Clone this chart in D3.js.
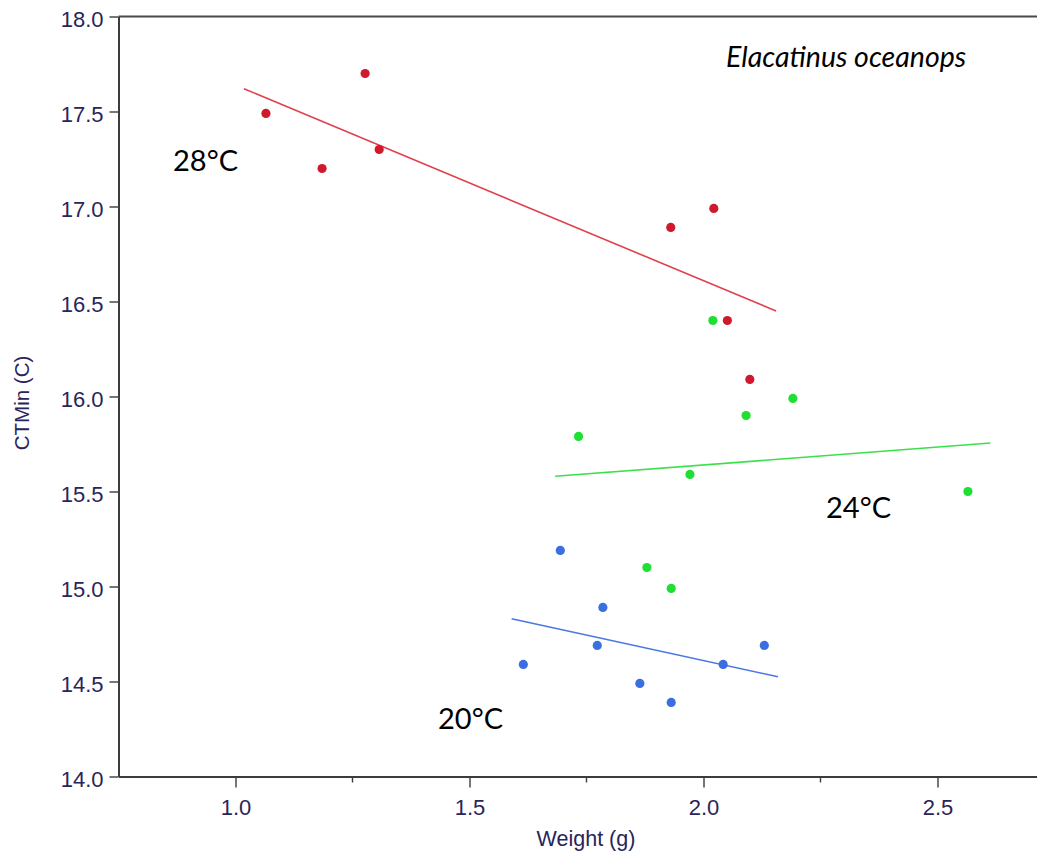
<!DOCTYPE html>
<html>
<head>
<meta charset="utf-8">
<script src="https://cdn.jsdelivr.net/npm/d3@7/dist/d3.min.js"></script>
<style>
  html, body { margin: 0; padding: 0; background: #fff; }
  svg { display: block; }
</style>
</head>
<body>
<svg id="chart" width="1037" height="854"></svg>
<script>
// ---- data ----
const xTicks = [1.0, 1.5, 2.0, 2.5];
const xMinorTicks = [1.25, 1.75, 2.25];
const yTicks = [14.0, 14.5, 15.0, 15.5, 16.0, 16.5, 17.0, 17.5, 18.0];

const weight28 = [1.065, 1.185, 1.277, 1.307, 1.930, 2.022, 2.051, 2.099];
const ctmin28  = [17.49, 17.20, 17.70, 17.30, 16.89, 16.99, 16.40, 16.09];

const weight24 = [1.733, 1.879, 1.931, 1.971, 2.020, 2.091, 2.191, 2.565];
const ctmin24  = [15.79, 15.10, 14.99, 15.59, 16.40, 15.90, 15.99, 15.50];

const weight20 = [1.615, 1.694, 1.773, 1.785, 1.864, 1.931, 2.042, 2.130];
const ctmin20  = [14.59, 15.19, 14.69, 14.89, 14.49, 14.39, 14.59, 14.69];

// fitted line end points [weight, ctmin]
const fit28 = [[1.018, 17.62], [2.155, 16.45]];
const fit24 = [[1.683, 15.58], [2.613, 15.755]];
const fit20 = [[1.590, 14.83], [2.159, 14.525]];

const seriesLabels = ["28°C", "24°C", "20°C"];
const speciesName = "Elacatinus oceanops";

// ---- drawing ----
const svg = d3.select("#chart");
const x = d3.scaleLinear().domain([0.75, 2.75]).range([118.5, 1054.5]);
const y = d3.scaleLinear().domain([14, 18]).range([776.5, 16.5]);

const tickColor = "#29255a";
const axisColor = "#3c3c3c";
const axisFont = "Liberation Sans, Arial, sans-serif";

// top frame line
svg.append("line")
  .attr("x1", x(0.75)).attr("x2", 1037)
  .attr("y1", y(18)).attr("y2", y(18))
  .attr("stroke", "#4a4a4a").attr("stroke-width", 2);

// x axis
const gx = svg.append("g").attr("transform", `translate(0,${y(14)})`)
  .call(d3.axisBottom(x).tickValues(xTicks).tickFormat(d3.format(".1f")).tickSize(11).tickPadding(0).tickSizeOuter(0));
gx.select(".domain").attr("stroke", axisColor).attr("stroke-width", 2);
gx.selectAll(".tick line").attr("stroke", axisColor).attr("stroke-width", 1.4);
gx.selectAll(".tick text").attr("fill", tickColor)
  .attr("font-family", axisFont).attr("font-size", 22).attr("y", 0).attr("dy", "1.75em");
gx.selectAll(".minor").data(xMinorTicks).enter().append("line")
  .attr("x1", d => x(d)).attr("x2", d => x(d)).attr("y1", 0).attr("y2", 6)
  .attr("stroke", axisColor).attr("stroke-width", 1.4);

// y axis
const gy = svg.append("g").attr("transform", `translate(${x(0.75)},0)`)
  .call(d3.axisLeft(y).tickValues(yTicks).tickFormat(d3.format(".1f")).tickSize(9).tickSizeOuter(0));
gy.select(".domain").attr("stroke", axisColor).attr("stroke-width", 2);
gy.selectAll(".tick line").attr("stroke", axisColor).attr("stroke-width", 1.4);
gy.selectAll(".tick text").attr("fill", tickColor)
  .attr("font-family", axisFont).attr("font-size", 22).attr("x", -15).attr("dy", "0.44em");

// axis titles
svg.append("text").attr("x", 586).attr("y", 846).attr("text-anchor", "middle")
  .attr("fill", tickColor).attr("font-family", axisFont).attr("font-size", 21.5)
  .text("Weight (g)");
svg.append("text").attr("transform", "translate(29,403) rotate(-90)").attr("text-anchor", "middle")
  .attr("fill", tickColor).attr("font-family", axisFont).attr("font-size", 20.5)
  .text("CTMin (C)");

// series
const series = [
  { w: weight28, c: ctmin28, fit: fit28, dot: "#cf1a2e", line: "#e0404c" },
  { w: weight24, c: ctmin24, fit: fit24, dot: "#1fdf33", line: "#3be04a" },
  { w: weight20, c: ctmin20, fit: fit20, dot: "#3b6fe0", line: "#4a78e2" }
];

const lineGen = d3.line().x(d => x(d[0])).y(d => y(d[1]));
series.forEach(s => {
  svg.append("path").datum(s.fit).attr("d", lineGen)
    .attr("fill", "none").attr("stroke", s.line).attr("stroke-width", 1.6);
});
series.forEach(s => {
  svg.append("g").selectAll("circle").data(s.w.map((w, i) => [w, s.c[i]])).enter()
    .append("circle").attr("cx", d => x(d[0])).attr("cy", d => y(d[1])).attr("r", 4.6)
    .attr("fill", s.dot);
});

// annotations
const annoFont = "Lato, 'Open Sans', sans-serif";
const annoPos = [[173, 171], [826, 518], [438, 729]];
seriesLabels.forEach((t, i) => {
  svg.append("text").attr("x", annoPos[i][0]).attr("y", annoPos[i][1])
    .attr("font-family", annoFont).attr("font-size", 29).attr("fill", "#000").text(t);
});
svg.append("text").attr("x", 726).attr("y", 67)
  .attr("font-family", annoFont).attr("font-style", "italic").attr("font-size", 28.5).attr("fill", "#000")
  .text(speciesName);
</script>
</body>
</html>
